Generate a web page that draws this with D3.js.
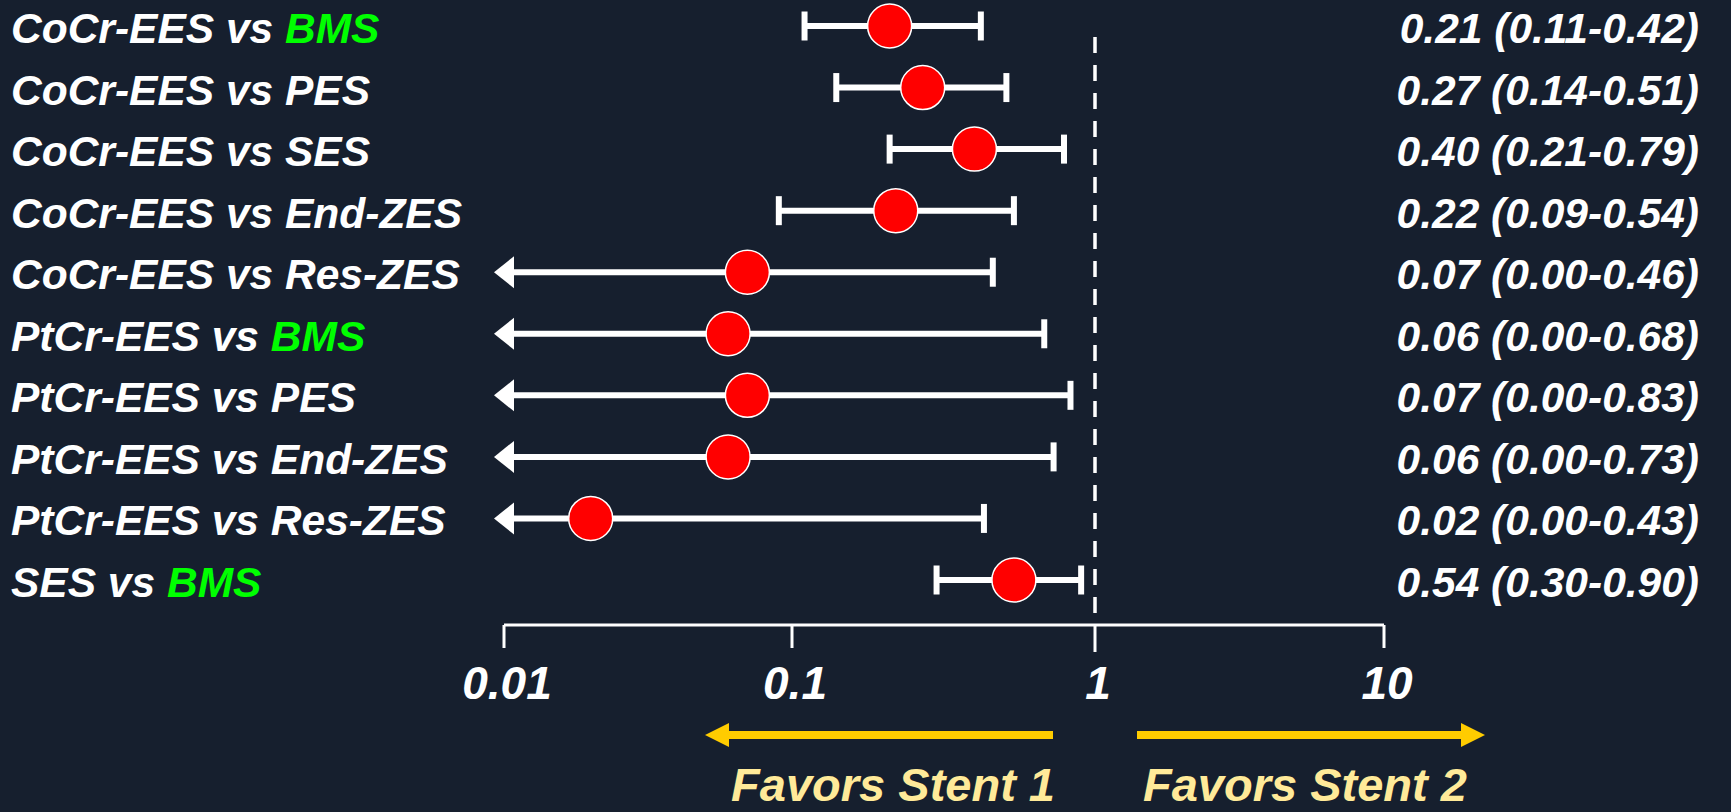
<!DOCTYPE html>
<html>
<head>
<meta charset="utf-8">
<script src="https://cdn.jsdelivr.net/npm/d3@7"></script>
<style>
  html, body { margin: 0; padding: 0; background: #161f2e; }
  svg { display: block; }
  text { font-family: "Liberation Sans", Arial, sans-serif; font-weight: bold; font-style: italic; }
</style>
</head>
<body>
<div id="chart"></div>
<script>
// comparisons: stent 1 vs stent 2
const stent1 = ["CoCr-EES", "CoCr-EES", "CoCr-EES", "CoCr-EES", "CoCr-EES",
                "PtCr-EES", "PtCr-EES", "PtCr-EES", "PtCr-EES", "SES"];
const stent2 = ["BMS", "PES", "SES", "End-ZES", "Res-ZES",
                "BMS", "PES", "End-ZES", "Res-ZES", "BMS"];
const estimate = [0.21, 0.27, 0.40, 0.22, 0.07, 0.06, 0.07, 0.06, 0.02, 0.54];
const lower = [0.11, 0.14, 0.21, 0.09, 0.00, 0.00, 0.00, 0.00, 0.00, 0.30];
const upper = [0.42, 0.51, 0.79, 0.54, 0.46, 0.68, 0.83, 0.73, 0.43, 0.90];
const tickValues = [0.01, 0.1, 1, 10];
const tickLabels = ["0.01", "0.1", "1", "10"];

const width = 1731, height = 812;

const svg = d3.select("#chart").append("svg")
    .attr("width", width)
    .attr("height", height);

svg.append("rect")
    .attr("width", width)
    .attr("height", height)
    .attr("fill", "#161f2e");

// the decades are not quite even in the original slide
const x = d3.scaleLog()
    .domain(tickValues)
    .range([504, 792, 1095, 1384]);

const y = d3.scalePoint()
    .domain(d3.range(estimate.length))
    .range([26, 580]);

const rows = d3.range(estimate.length);

// reference line at 1
svg.append("line")
    .attr("x1", x(1)).attr("x2", x(1))
    .attr("y1", 37).attr("y2", 614)
    .attr("stroke", "white")
    .attr("stroke-width", 3.5)
    .attr("stroke-dasharray", "16,12");

// axis
const axisY = 625;
const axis = svg.append("g").attr("transform", `translate(0,${axisY})`);
axis.append("line")
    .attr("x1", x(0.01)).attr("x2", x(10))
    .attr("stroke", "white").attr("stroke-width", 3);
axis.selectAll(".tick")
    .data(tickValues)
    .enter().append("line")
    .attr("class", "tick")
    .attr("x1", d => x(d)).attr("x2", d => x(d))
    .attr("y1", 0).attr("y2", d => d === 1 ? 27 : 23)
    .attr("stroke", "white").attr("stroke-width", 3);
axis.selectAll(".ticklabel")
    .data(tickValues)
    .enter().append("text")
    .attr("class", "ticklabel")
    .attr("x", d => x(d) + 3)
    .attr("y", 74)
    .attr("text-anchor", "middle")
    .attr("fill", "white")
    .attr("font-size", 46)
    .text((d, i) => tickLabels[i]);

// CI lines
const ci = svg.append("g");
const tipX = x(0.01) - 10;
ci.selectAll(".ci")
    .data(rows)
    .enter().append("line")
    .attr("class", "ci")
    .attr("x1", i => lower[i] > 0 ? x(lower[i]) : tipX + 18)
    .attr("x2", i => x(upper[i]))
    .attr("y1", i => y(i)).attr("y2", i => y(i))
    .attr("stroke", "white").attr("stroke-width", 6);

// caps
ci.selectAll(".capR")
    .data(rows)
    .enter().append("line")
    .attr("class", "capR")
    .attr("x1", i => x(upper[i])).attr("x2", i => x(upper[i]))
    .attr("y1", i => y(i) - 14.5).attr("y2", i => y(i) + 14.5)
    .attr("stroke", "white").attr("stroke-width", 6);
ci.selectAll(".capL")
    .data(rows.filter(i => lower[i] > 0))
    .enter().append("line")
    .attr("class", "capL")
    .attr("x1", i => x(lower[i])).attr("x2", i => x(lower[i]))
    .attr("y1", i => y(i) - 14.5).attr("y2", i => y(i) + 14.5)
    .attr("stroke", "white").attr("stroke-width", 6);

// open lower bound -> arrow heads
ci.selectAll(".head")
    .data(rows.filter(i => lower[i] <= 0))
    .enter().append("path")
    .attr("class", "head")
    .attr("d", i => `M${tipX},${y(i)} L${tipX + 20},${y(i) - 16} L${tipX + 20},${y(i) + 16} Z`)
    .attr("fill", "white");

// point estimates
svg.selectAll(".pt")
    .data(rows)
    .enter().append("circle")
    .attr("class", "pt")
    .attr("cx", i => x(estimate[i]))
    .attr("cy", i => y(i))
    .attr("r", 22)
    .attr("fill", "#ff0000")
    .attr("stroke", "white")
    .attr("stroke-width", 1.5);

// row labels
const labels = svg.selectAll(".label")
    .data(rows)
    .enter().append("text")
    .attr("class", "label")
    .attr("x", 11)
    .attr("y", i => y(i) + 17)
    .attr("font-size", 42.5)
    .attr("fill", "white");
labels.append("tspan").text(i => stent1[i] + " vs ");
labels.append("tspan")
    .attr("fill", i => stent2[i] === "BMS" ? "#00ff00" : "white")
    .text(i => stent2[i]);

// values
svg.selectAll(".value")
    .data(rows)
    .enter().append("text")
    .attr("class", "value")
    .attr("x", 1699)
    .attr("y", i => y(i) + 17)
    .attr("text-anchor", "end")
    .attr("font-size", 42.5)
    .attr("fill", "white")
    .text(i => `${estimate[i].toFixed(2)} (${lower[i].toFixed(2)}-${upper[i].toFixed(2)})`);

// favors arrows
const favY = 735;
const leftEnd = x(1) - 42, leftTip = x(1) - 390;
const rightStart = x(1) + 42, rightTip = x(1) + 390;
const fav = svg.append("g");
fav.append("line")
    .attr("x1", leftTip + 20).attr("x2", leftEnd)
    .attr("y1", favY).attr("y2", favY)
    .attr("stroke", "#ffcc00").attr("stroke-width", 8);
fav.append("path")
    .attr("d", `M${leftTip},${favY} L${leftTip + 24},${favY - 12} L${leftTip + 24},${favY + 12} Z`)
    .attr("fill", "#ffcc00");
fav.append("line")
    .attr("x1", rightStart).attr("x2", rightTip - 20)
    .attr("y1", favY).attr("y2", favY)
    .attr("stroke", "#ffcc00").attr("stroke-width", 8);
fav.append("path")
    .attr("d", `M${rightTip},${favY} L${rightTip - 24},${favY - 12} L${rightTip - 24},${favY + 12} Z`)
    .attr("fill", "#ffcc00");

fav.append("text")
    .attr("x", leftEnd + 2)
    .attr("y", 801)
    .attr("text-anchor", "end")
    .attr("font-size", 47)
    .attr("fill", "#ffea99")
    .text("Favors Stent 1");
fav.append("text")
    .attr("x", rightStart + 6)
    .attr("y", 801)
    .attr("font-size", 47)
    .attr("fill", "#ffea99")
    .text("Favors Stent 2");
</script>
</body>
</html>
